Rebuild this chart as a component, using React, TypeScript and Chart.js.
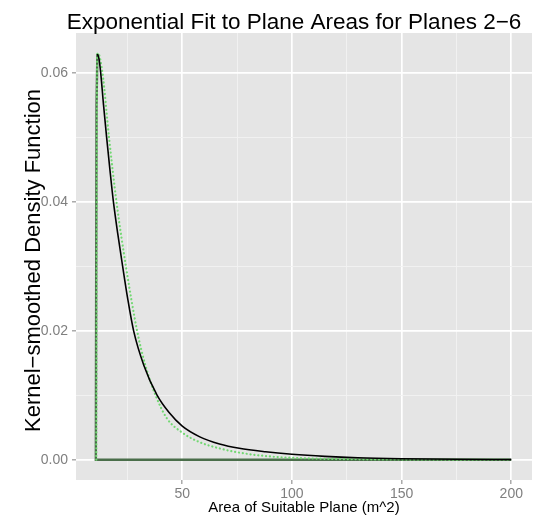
import React, { useEffect, useRef } from "react";
import { Chart, registerables } from "chart.js";

Chart.register(...registerables);

const chartTitle = "Exponential Fit to Plane Areas for Planes 2−6";
const xAxisTitle = "Area of Suitable Plane (m^2)";
const yAxisTitle = "Kernel−smoothed Density Function";

const xMajorTicks = [50, 100, 150, 200];
const xMinorTicks = [25, 75, 125, 175];
const yMajorTicks = [0, 0.02, 0.04, 0.06];
const yMinorTicks = [0.01, 0.03, 0.05];

// density polygon outline: rising edge down to baseline, then along the baseline
const outlineX = [11.3, 10.9, 10.6, 200];
const outlineY = [0.0629, 0.055, 0, 0];

// kernel-smoothed density (black)
const kdeX = [11.3, 12.0, 12.8, 14.1, 15.5, 17.0, 18.6, 20.6, 22.8, 25.1, 27.8, 32.5, 38.5, 44.0, 50.0, 58.0, 67.0, 76.0, 88.0, 100, 115, 130, 150, 175, 200];
const kdeY = [0.0629, 0.0622, 0.06, 0.055, 0.05, 0.045, 0.04, 0.035, 0.03, 0.025, 0.02, 0.0146, 0.01, 0.0073, 0.0052, 0.00354, 0.00243, 0.00176, 0.00123, 0.00085, 0.00052, 0.0003, 0.00015, 0.00006, 0.00002];

// exponential fit (green dotted)
const fitX = [10.8, 11.2, 11.6, 13.6, 16.6, 20.0, 24.3, 29.4, 33.2, 37.8, 43.0, 50.0, 58.0, 67.0, 76.0, 90.0, 110, 140, 200];
const fitY = [0, 0.0628, 0.063, 0.06, 0.05, 0.04, 0.03, 0.02, 0.0146, 0.01, 0.0064, 0.0042, 0.0027, 0.00175, 0.0011, 0.0005, 0.00018, 0.00004, 0];

const X_MIN = 1.55;
const X_MAX = 209.45;
const Y_MIN = -0.00315;
const Y_MAX = 0.06615;

const FONT = "'Liberation Sans', Arial, Helvetica, sans-serif";

function pts(xs: number[], ys: number[]) {
  return xs.map((x, i) => ({ x, y: ys[i] }));
}

export default function App() {
  const ref = useRef<HTMLCanvasElement | null>(null);

  useEffect(() => {
    document.body.style.margin = "0";
    const canvas = ref.current;
    if (!canvas) return;

    const isMinorX = (v: number) => xMinorTicks.includes(v);
    const isMinorY = (v: number) => yMinorTicks.some((m) => Math.abs(m - v) < 1e-9);

    const bgPlugin = {
      id: "panelBg",
      beforeDraw(chart: any) {
        const { ctx, chartArea } = chart;
        ctx.save();
        ctx.fillStyle = "#ffffff";
        ctx.fillRect(0, 0, chart.width, chart.height);
        ctx.fillStyle = "#e5e5e5";
        ctx.fillRect(chartArea.left, chartArea.top, chartArea.right - chartArea.left, chartArea.bottom - chartArea.top);
        ctx.restore();
      },
    };

    const textPlugin = {
      id: "texts",
      afterDraw(chart: any) {
        const { ctx, chartArea } = chart;
        ctx.save();
        ctx.fillStyle = "#000000";
        ctx.textAlign = "center";
        ctx.textBaseline = "alphabetic";
        ctx.font = `22.5px ${FONT}`;
        ctx.fillText(chartTitle, 294, 29);
        ctx.font = `15px ${FONT}`;
        ctx.fillText(xAxisTitle, (chartArea.left + chartArea.right) / 2, 512);
        ctx.font = `22px ${FONT}`;
        ctx.translate(40, (chartArea.top + chartArea.bottom) / 2 + 4);
        ctx.rotate(-Math.PI / 2);
        ctx.fillText(yAxisTitle, 0, 0);
        ctx.restore();
      },
    };

    const chart = new Chart(canvas, {
      type: "scatter",
      data: {
        datasets: [
          {
            label: "density outline",
            data: pts(outlineX, outlineY),
            showLine: true,
            borderColor: "#4a6e4a",
            borderWidth: 2.4,
            pointRadius: 0,
            tension: 0,
            order: 3,
          },
          {
            label: "exponential fit",
            data: pts(fitX, fitY),
            showLine: true,
            borderColor: "#72d872",
            borderWidth: 2.2,
            borderDash: [0.1, 3.8],
            borderCapStyle: "round",
            pointRadius: 0,
            cubicInterpolationMode: "monotone",
            order: 2,
          },
          {
            label: "kernel density",
            data: pts(kdeX, kdeY),
            showLine: true,
            borderColor: "#000000",
            borderWidth: 1.6,
            pointRadius: 0,
            cubicInterpolationMode: "monotone",
            order: 1,
          },
        ],
      },
      options: {
        responsive: false,
        animation: false,
        events: [],
        layout: { padding: { top: 33, right: 12, left: 0, bottom: 0 } },
        plugins: {
          legend: { display: false },
          title: { display: false },
          tooltip: { enabled: false },
        },
        scales: {
          x: {
            type: "linear",
            min: X_MIN,
            max: X_MAX,
            afterBuildTicks(scale: any) {
              scale.ticks = [...xMinorTicks, ...xMajorTicks].sort((a, b) => a - b).map((v) => ({ value: v }));
            },
            afterFit(scale: any) {
              scale.height = 44;
            },
            border: { display: false },
            grid: {
              color: (c: any) => (isMinorX(c.tick?.value) ? "#f2f2f2" : "#ffffff"),
              lineWidth: (c: any) => (isMinorX(c.tick?.value) ? 0.9 : 1.7),
              tickColor: (c: any) => (isMinorX(c.tick?.value) ? "rgba(0,0,0,0)" : "#7f7f7f"),
              tickLength: 4,
              tickWidth: 1,
            },
            ticks: {
              autoSkip: false,
              maxRotation: 0,
              padding: 2,
              color: "#7f7f7f",
              font: { family: FONT, size: 14 },
              callback: (v: any) => (isMinorX(Number(v)) ? "" : String(v)),
            },
          },
          y: {
            type: "linear",
            min: Y_MIN,
            max: Y_MAX,
            afterBuildTicks(scale: any) {
              scale.ticks = [...yMajorTicks, ...yMinorTicks].sort((a, b) => a - b).map((v) => ({ value: v }));
            },
            afterFit(scale: any) {
              scale.width = 76;
            },
            border: { display: false },
            grid: {
              color: (c: any) => (isMinorY(c.tick?.value) ? "#f2f2f2" : "#ffffff"),
              lineWidth: (c: any) => (isMinorY(c.tick?.value) ? 0.9 : 1.7),
              tickColor: (c: any) => (isMinorY(c.tick?.value) ? "rgba(0,0,0,0)" : "#7f7f7f"),
              tickLength: 4,
              tickWidth: 1,
            },
            ticks: {
              autoSkip: false,
              padding: 4,
              color: "#7f7f7f",
              font: { family: FONT, size: 14 },
              callback: (v: any) => (isMinorY(Number(v)) ? "" : Number(v).toFixed(2)),
            },
          },
        },
      },
      plugins: [bgPlugin, textPlugin],
    } as any);

    return () => chart.destroy();
  }, []);

  return <canvas ref={ref} width={544} height={524} style={{ display: "block" }} />;
}
